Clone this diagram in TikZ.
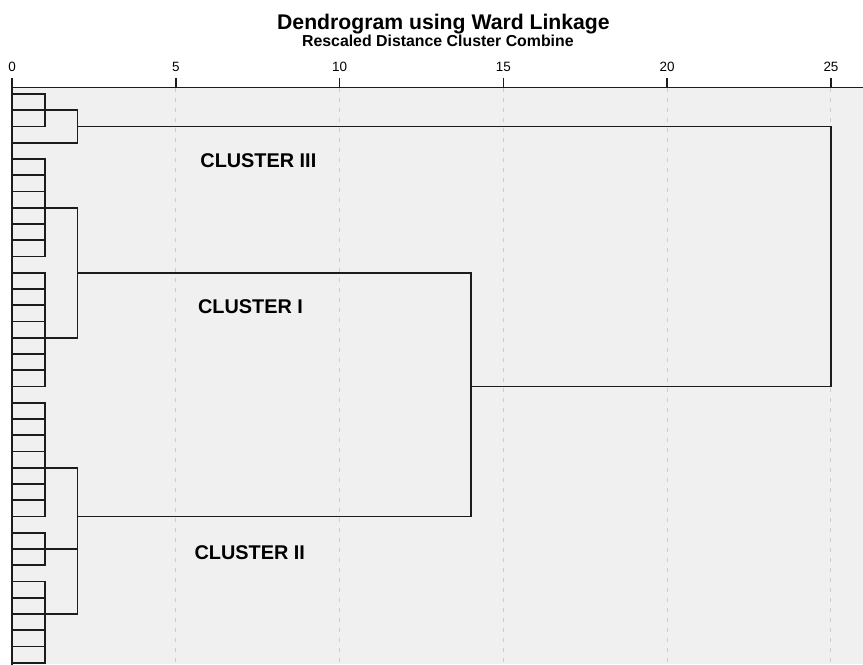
\documentclass[tikz,border=0pt]{standalone}
\usepackage{fontspec}
\setmainfont{Liberation Sans}
\usetikzlibrary{calc}
\definecolor{plotgray}{RGB}{240,240,240}
\definecolor{gridgray}{RGB}{205,205,205}
\definecolor{linkdark}{RGB}{28,28,28}

\begin{document}
\begin{tikzpicture}[
    x=24.57pt, y=-12.1875pt,
    % Line styles
    link/.style={
        draw=linkdark, line width=1.4pt, line cap=rect
    },
    axisline/.style={
        draw=linkdark, line width=1.3pt
    },
    gridline/.style={
        draw=gridgray, line width=0.75pt, dash pattern=on 3.5pt off 4pt
    },
    % Text styles
    titletext/.style={
        font=\fontsize{15.9pt}{18pt}\selectfont\bfseries, inner sep=0pt
    },
    subtitletext/.style={
        font=\fontsize{11.9pt}{14pt}\selectfont\bfseries, inner sep=0pt
    },
    ticklabel/.style={
        font=\fontsize{10.1pt}{12pt}\selectfont, inner sep=0pt
    },
    clusterlabel/.style={
        font=\fontsize{14.9pt}{17pt}\selectfont\bfseries, inner sep=0pt
    },
]

\useasboundingbox (-0.3663,-5.785) rectangle (25.977,35.077);

% ===== PLOT AREA =====
\fill[plotgray] (0,-0.4) rectangle (25.977,35.077);
\foreach \d in {5,10,...,25}
    \draw[gridline] (\d,-0.4) -- (\d,35.077);

% ===== TITLES =====
\node[titletext] (title) at (13.17,-4.31) {Dendrogram using Ward Linkage};
\node[subtitletext] (subtitle) at (13.0,-3.26) {Rescaled Distance Cluster Combine};

% ===== AXIS =====
\draw[axisline] (0,-0.4) -- (25.977,-0.4);
\foreach \d in {0,5,...,25} {
    \draw[axisline] (\d,-0.4) -- (\d,-0.97);
    \node[ticklabel] (tick\d) at (\d,-1.66) {\d};
}
\draw[link] (0,-0.4) -- (0,35.077);

% ===== LEAVES AND FIRST MERGES =====
% groups: first row / last row / merge row
\foreach \a/\b/\m/\g in {0/2/1/g0, 4/10/7/ga, 11/18/15/gb, 19/26/23/gc, 27/29/28/gd, 30/35/32/ge} {
    \foreach \r in {\a,...,\b}
        \draw[link] (0,\r) -- (1,\r);
    \draw[link] (1,\a) -- (1,\b);
    \coordinate (\g) at (1,\m);
}
\coordinate (leaf3) at (0,3);

% ===== MERGE POINTS =====
\coordinate (m3) at (2,2);
\coordinate (m1) at (2,11);
\coordinate (m2) at (2,26);
\coordinate (m12) at (14,18);
\coordinate (mall) at (25,10);

% ===== CLUSTER III =====
\draw[link] (g0) -| (m3) |- (leaf3);

% ===== CLUSTER I =====
\draw[link] (ga) -| (m1) |- (gb);

% ===== CLUSTER II =====
\draw[link] (gc) -| (m2) |- (ge);
\draw[link] (gd) -- (gd -| m2);

% ===== UPPER MERGES =====
\draw[link] (m1) -| (m12) |- (m2);
\draw[link] (m12) -| (mall) |- (m3);

% ===== CLUSTER LABELS =====
\node[clusterlabel] (lab3) at (7.52,4.10) {CLUSTER III};
\node[clusterlabel] (lab1) at (7.28,13.11) {CLUSTER I};
\node[clusterlabel] (lab2) at (7.26,28.23) {CLUSTER II};

\end{tikzpicture}
\end{document}
